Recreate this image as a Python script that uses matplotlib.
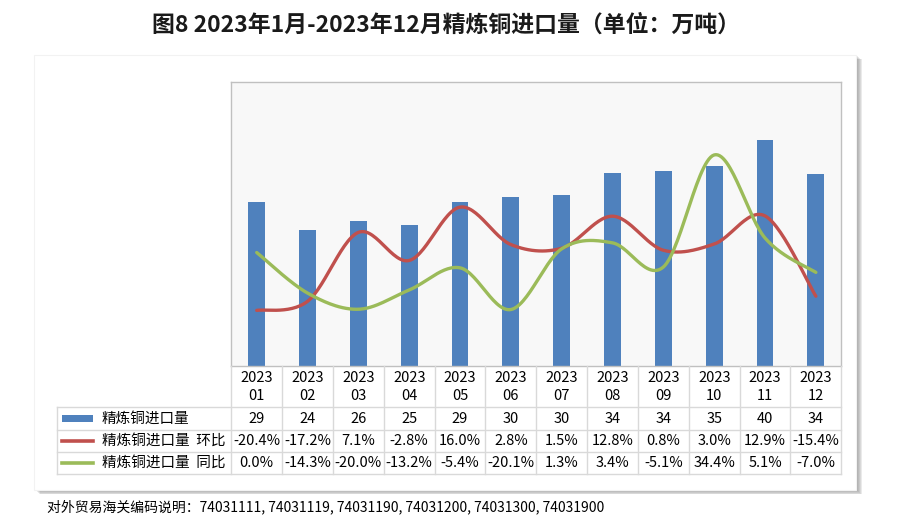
import numpy as np
import matplotlib
matplotlib.use("Agg")
import matplotlib.pyplot as plt
from matplotlib.patches import Rectangle
from matplotlib.lines import Line2D

plt.rcParams['font.family'] = ['Noto Sans CJK SC', 'DejaVu Sans']

# data
months = ["01", "02", "03", "04", "05", "06", "07", "08", "09", "10", "11", "12"]
imports = [28.9, 23.9, 25.6, 24.9, 28.9, 29.7, 30.2, 34.0, 34.3, 35.3, 39.9, 33.8]
imports_lbl = ["29", "24", "26", "25", "29", "30", "30", "34", "34", "35", "40", "34"]
mom = [-20.4, -17.2, 7.1, -2.8, 16.0, 2.8, 1.5, 12.8, 0.8, 3.0, 12.9, -15.4]
yoy = [0.0, -14.3, -20.0, -13.2, -5.4, -20.1, 1.3, 3.4, -5.1, 34.4, 5.1, -7.0]

c_bar = "#4F81BD"
c_red = "#C0504D"
c_green = "#9BBB59"
c_grid = "#D9D9D9"

W, H = 900, 527
fig = plt.figure(figsize=(W/100, H/100), dpi=100)

def fx(x):
    return x / W

def fy(y):
    return 1 - y / H

def smooth(xs, ys, n=30):
    # Excel-like smoothed line (Catmull-Rom bezier)
    P = np.column_stack([xs, ys]).astype(float)
    P = np.vstack([P[0], P, P[-1]])
    out = []
    t = np.linspace(0, 1, n)[:, None]
    for i in range(1, len(P) - 2):
        p0, p3 = P[i], P[i+1]
        c1 = p0 + (P[i+1] - P[i-1]) / 6
        c2 = p3 - (P[i+2] - P[i]) / 6
        seg = (1-t)**3*p0 + 3*(1-t)**2*t*c1 + 3*(1-t)*t**2*c2 + t**3*p3
        out.append(seg)
    out = np.vstack(out)
    return out[:, 0], out[:, 1]

# chart box with shadow
for k in range(1, 7):
    fig.patches.append(Rectangle((fx(34 + k), fy(490 + k*0.7)), fx(856 - 34), (490 - 55) / H,
                                 transform=fig.transFigure, facecolor="#707070",
                                 alpha=0.14, edgecolor="none", zorder=-2))
fig.patches.append(Rectangle((fx(34), fy(490)), fx(856 - 34), (490 - 55) / H,
                             transform=fig.transFigure, facecolor="white",
                             edgecolor="#F2F2F2", lw=0.8, zorder=-1))

# plot area
L, R, T, B = 231.3, 841.3, 82.3, 366
ax = fig.add_axes([fx(L), fy(B), (R - L) / W, (B - T) / H])
ax.set_facecolor("#F8F8F8")
x = np.arange(len(months))
ax.bar(x, imports, width=0.33, color=c_bar, zorder=2)
ax.set_xlim(-0.5, len(months) - 0.5)
ax.set_ylim(0, 50)
ax.set_xticks([])
ax.set_yticks([])
for s in ax.spines.values():
    s.set_color("#C0C0C0")
    s.set_linewidth(1)

ax2 = ax.twinx()
sx, sy = smooth(x, mom)
ax2.plot(sx, sy, color=c_red, lw=2.4, solid_capstyle="round")
sx, sy = smooth(x, yoy)
ax2.plot(sx, sy, color=c_green, lw=2.4, solid_capstyle="round")
ax2.set_ylim(-40, 60)
ax2.set_yticks([])
for s in ax2.spines.values():
    s.set_visible(False)

# data table
TL = 56.7
col_w = (R - L) / len(months)
rows = [366, 407.3, 430, 452, 474]

def hline(y, x0, x1):
    fig.lines.append(Line2D([fx(x0), fx(x1)], [fy(y), fy(y)], transform=fig.transFigure,
                            color=c_grid, lw=1))

def vline(x0, y0, y1):
    fig.lines.append(Line2D([fx(x0), fx(x0)], [fy(y0), fy(y1)], transform=fig.transFigure,
                            color=c_grid, lw=1))

for y in rows[1:]:
    hline(y, TL, R)
vline(TL, rows[1], rows[-1])
for i in range(len(months) + 1):
    vline(L + i * col_w, rows[0], rows[-1])

fs = 10.5
for i, m in enumerate(months):
    cx = fx(L + (i + 0.5) * col_w)
    fig.text(cx, fy(378), "2023", ha="center", va="center", fontsize=fs)
    fig.text(cx, fy(395.5), m, ha="center", va="center", fontsize=fs)
    fig.text(cx, fy((rows[1] + rows[2]) / 2), imports_lbl[i], ha="center", va="center", fontsize=fs)
    fig.text(cx, fy((rows[2] + rows[3]) / 2), "%.1f%%" % mom[i], ha="center", va="center", fontsize=fs)
    fig.text(cx, fy((rows[3] + rows[4]) / 2), "%.1f%%" % yoy[i], ha="center", va="center", fontsize=fs)

# legend keys inside the table
ym = (rows[1] + rows[2]) / 2
fig.patches.append(Rectangle((fx(62), fy(ym + 3.5)), fx(93 - 62), 7 / H,
                             transform=fig.transFigure, facecolor=c_bar, edgecolor="none"))
fig.lines.append(Line2D([fx(62), fx(93)], [fy((rows[2] + rows[3]) / 2)] * 2,
                        transform=fig.transFigure, color=c_red, lw=2.6))
fig.lines.append(Line2D([fx(62), fx(93)], [fy((rows[3] + rows[4]) / 2)] * 2,
                        transform=fig.transFigure, color=c_green, lw=2.6))
names = ["精炼铜进口量", "精炼铜进口量  环比", "精炼铜进口量  同比"]
for j, nm in enumerate(names):
    fig.text(fx(102), fy((rows[j+1] + rows[j+2]) / 2), nm, ha="left", va="center", fontsize=10.5)

# title and footnote
fig.text(0.496, fy(25), "图8 2023年1月-2023年12月精炼铜进口量（单位：万吨）",
         ha="center", va="center", fontsize=16.5, fontweight="bold", color="#1A1A1A")
fig.text(fx(47), fy(507), "对外贸易海关编码说明：74031111, 74031119, 74031190, 74031200, 74031300, 74031900",
         ha="left", va="center", fontsize=10)

fig.savefig("out.png", dpi=100)
